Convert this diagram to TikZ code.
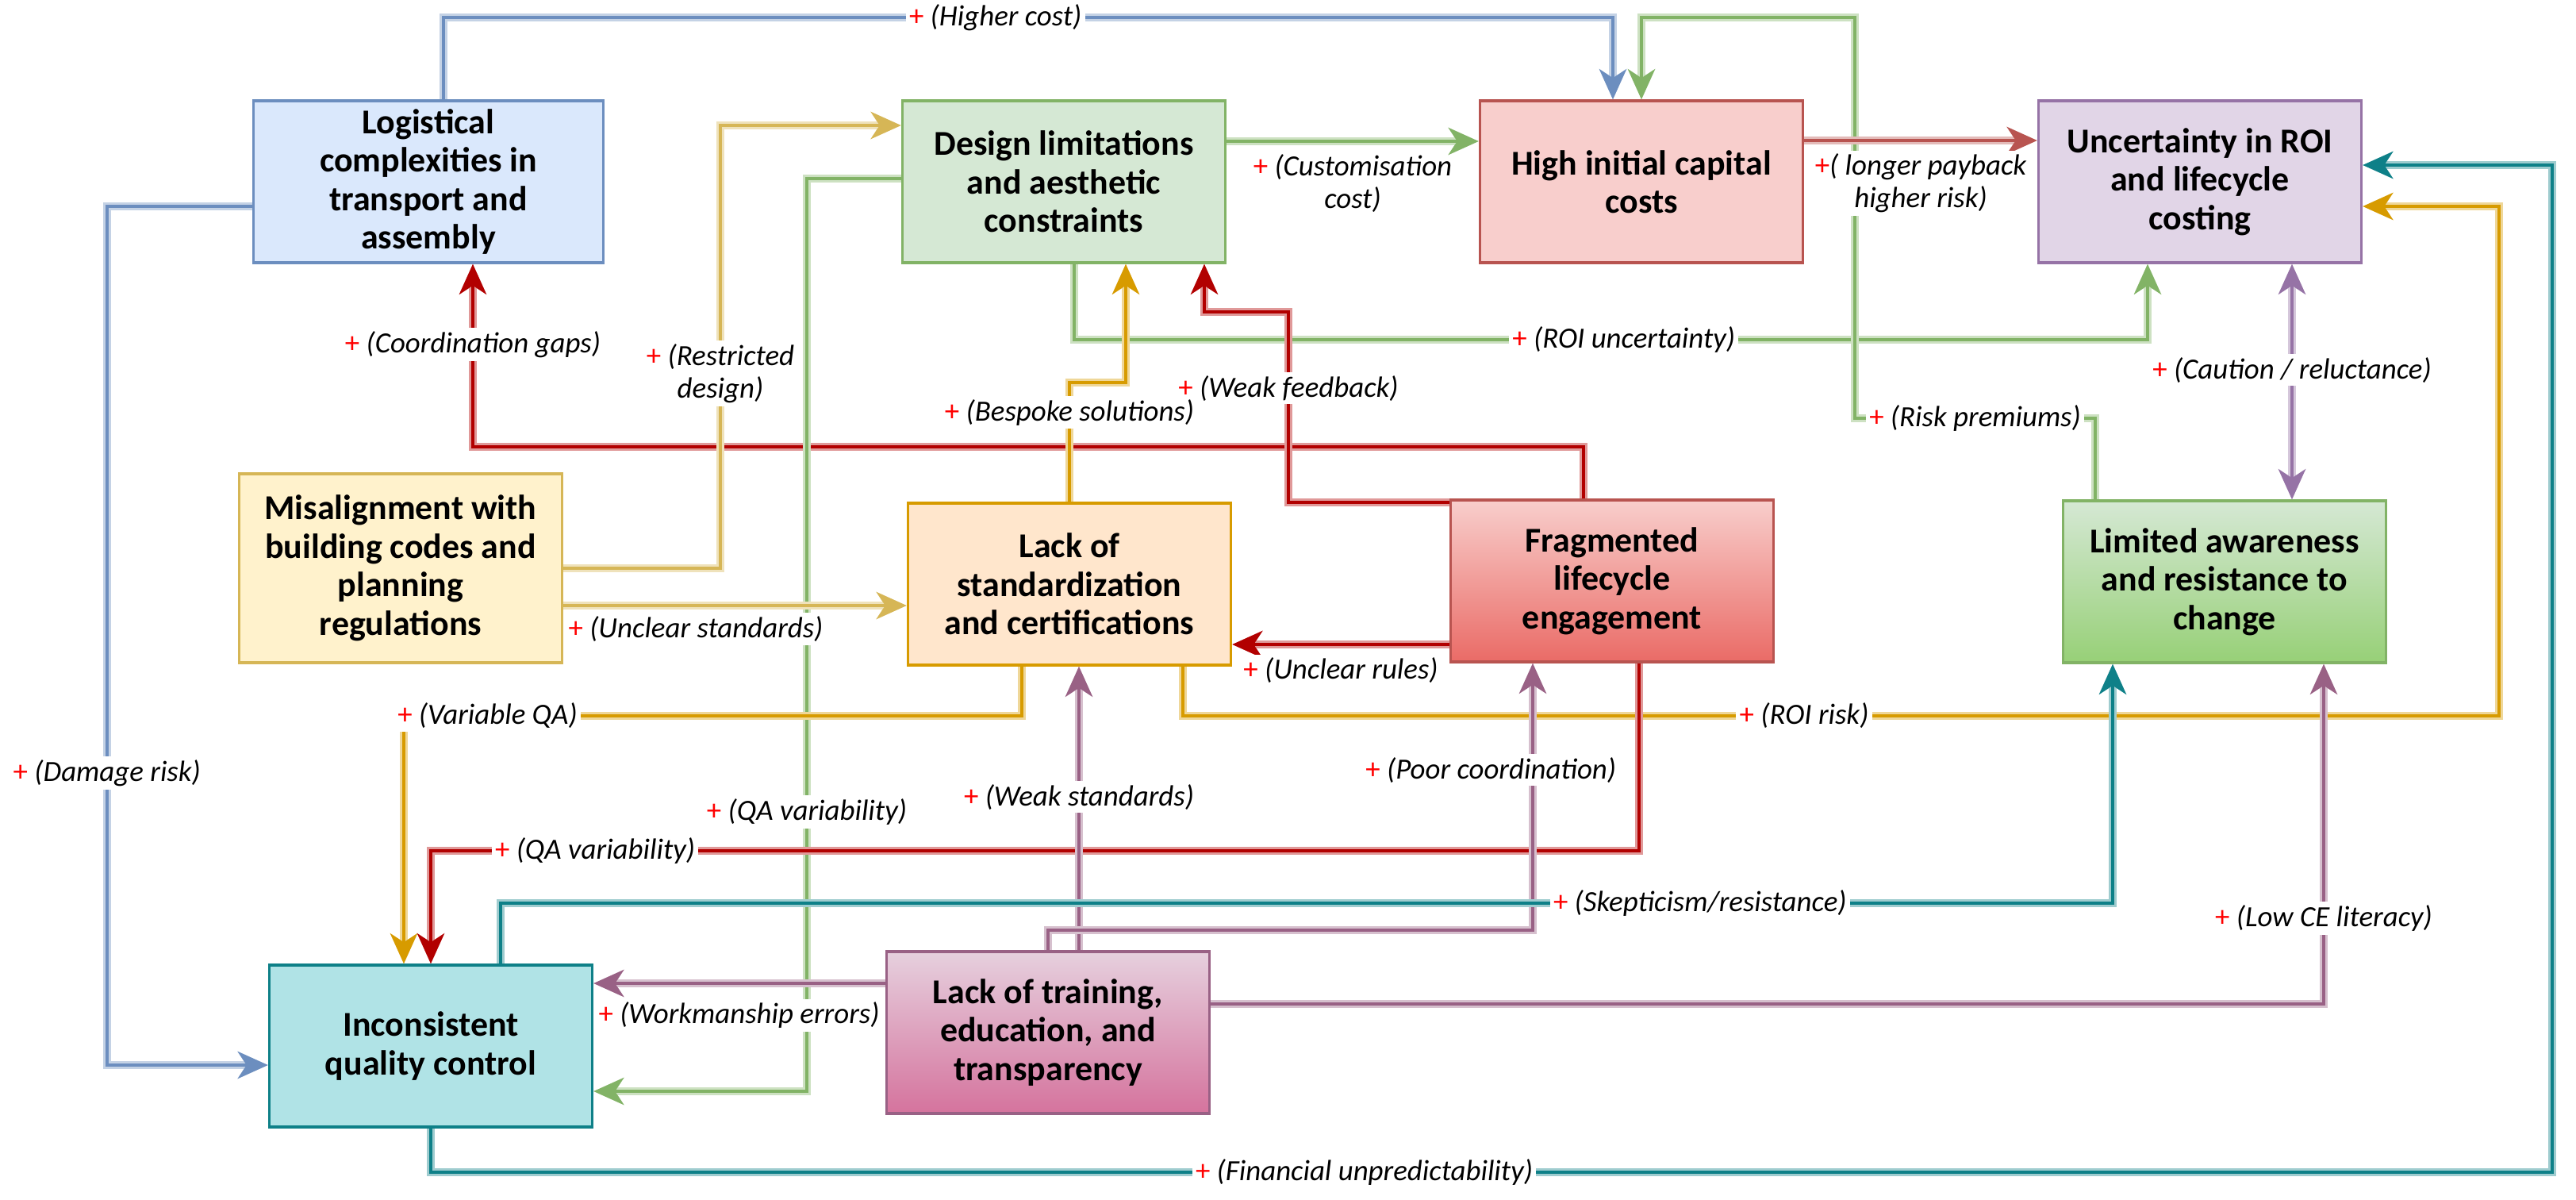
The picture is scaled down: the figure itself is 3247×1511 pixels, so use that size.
\documentclass[tikz,border=0pt]{standalone}
\usepackage{fontspec}
\setmainfont{Carlito}
\usepackage{tikz}
\usetikzlibrary{arrows.meta, calc}
\usepackage{xcolor}
\definecolor{dblue}{HTML}{6C8EBF}   \definecolor{lblue}{HTML}{DAE8FC}
\definecolor{dgreen}{HTML}{82B366}  \definecolor{lgreen}{HTML}{D5E8D4}
\definecolor{mgreen}{HTML}{97D077}
\definecolor{dred}{HTML}{B85450}    \definecolor{lred}{HTML}{F8CECC}
\definecolor{mred}{HTML}{EA6B66}
\definecolor{dpurple}{HTML}{9673A6} \definecolor{lpurple}{HTML}{E1D5E7}
\definecolor{dyellow}{HTML}{D6B656} \definecolor{lyellow}{HTML}{FFF2CC}
\definecolor{dorange}{HTML}{D79B00} \definecolor{lorange}{HTML}{FFE6CC}
\definecolor{dteal}{HTML}{0E8088}   \definecolor{lteal}{HTML}{B0E3E6}
\definecolor{dmauve}{HTML}{996185}  \definecolor{lmauve}{HTML}{E6D0DE}
\definecolor{mmauve}{HTML}{D5739D}
\definecolor{crimson}{HTML}{B20000}
\newcommand{\pls}{\textcolor{red}{\upshape+}}

\begin{document}
\begin{tikzpicture}[
    x=0.1mm, y=-0.1mm,
    >={Stealth[length=3.8mm, width=3.4mm, inset=1.1mm]},
    box/.style={draw, line width=1pt, minimum width=40.7mm, minimum height=20.4mm,
                inner sep=0.5pt, align=center, font=\fontsize{12.5}{13.8}\selectfont\bfseries},
    lnk/.style={draw=#1, line width=1.2pt, ->, preaction={draw=#1!40, line width=2.8pt}},
    lab/.style={fill=white, inner sep=1.2pt, align=center,
                font=\fontsize{10.5}{11.5}\selectfont\itshape},
]
\useasboundingbox (0,0) rectangle (3247,1511);

% factors
\node[box, fill=lblue, draw=dblue, minimum width=44.1mm] (logi) at (540,229)
    {Logistical\\complexities in\\transport and\\assembly};
\node[box, fill=lgreen, draw=dgreen] (design) at (1341,229)
    {Design limitations\\and aesthetic\\constraints};
\node[box, fill=lred, draw=dred] (capex) at (2069,229) {High initial capital\\costs};
\node[box, fill=lpurple, draw=dpurple] (roi) at (2773,229)
    {Uncertainty in ROI\\and lifecycle\\costing};
\node[box, fill=lyellow, draw=dyellow, minimum height=23.8mm] (codes) at (505,716)
    {Misalignment with\\building codes and\\planning\\regulations};
\node[box, fill=lorange, draw=dorange] (stand) at (1348,736)
    {Lack of\\standardization\\and certifications};
\node[box, top color=lred, bottom color=mred, draw=dred] (frag) at (2032,732)
    {Fragmented\\lifecycle\\engagement};
\node[box, top color=lgreen, bottom color=mgreen, draw=dgreen] (aware) at (2804,733)
    {Limited awareness\\and resistance to\\change};
\node[box, fill=lteal, draw=dteal] (qc) at (543,1318) {Inconsistent\\quality control};
\node[box, top color=lmauve, bottom color=mmauve, draw=dmauve] (train) at (1321,1301)
    {Lack of training,\\education, and\\transparency};

% links
\draw[lnk=dblue] ($(logi.north)+(19,0)$) |- node[lab, pos=0.736]{\pls~(Higher cost)}
    (2033,22) -- ($(capex.north)+(-36,0)$);
\draw[lnk=dblue] ($(logi.west)+(0,31)$) -| node[lab, pos=0.83]{\pls~(Damage risk)}
    ($(qc.west)+(-203,24)$) -- ($(qc.west)+(0,24)$);
\draw[lnk=dgreen] ($(design.east)+(0,-51)$) --
    node[lab, below=3pt, fill=none]{\pls~(Customisation\\cost)} ($(capex.west)+(0,-51)$);
\draw[lnk=dgreen] ($(design.south)+(13,0)$) |- node[lab, pos=0.756]{\pls~(ROI uncertainty)}
    (2707,428) -- ($(roi.south)+(-66,0)$);
\draw[lnk=dgreen] ($(aware.north)+(-163,0)$) |- node[lab, pos=0.75]{\pls~(Risk premiums)}
    (2338,527) |- (2069,22) -- (capex.north);
\draw[lnk=dred] ($(capex.east)+(0,-52)$) --
    node[lab, below=3pt]{\pls( longer payback\\higher risk)} ($(roi.west)+(0,-52)$);
\draw[lnk=dpurple, <->] ($(roi.south)+(116,0)$) --
    node[lab, pos=0.45]{\pls~(Caution / reluctance)} ($(aware.north)+(85,0)$);
\draw[lnk=crimson] ($(frag.north)+(-36,0)$) |- (596,563) --
    node[lab, pos=0.56]{\pls~(Coordination gaps)} ($(logi.south)+(56,0)$);
\draw[lnk=crimson] ($(frag.north west)+(0,5)$) -| node[lab, pos=0.8]{\pls~(Weak feedback)}
    (1624,393) -| ($(design.south)+(177,0)$);
\draw[lnk=dorange] (stand.north) |- node[lab, pos=0.375]{\pls~(Bespoke solutions)}
    (1419,482) -- ($(design.south)+(78,0)$);
\draw[lnk=dyellow] (codes.east) -| node[lab, pos=0.72]{\pls~(Restricted\\design)}
    (908,158) -- ($(design.west)+(0,-71)$);
\draw[lnk=dgreen] ($(design.west)+(0,-4)$) -| node[lab, pos=0.847]{\pls~(QA variability)}
    (1017,1375) -- ($(qc.east)+(0,57)$);
\draw[lnk=dyellow] ($(codes.east)+(0,47)$) --
    node[lab, pos=0, anchor=north west, yshift=-2pt]{\pls~(Unclear standards)}
    ($(stand.west)+(0,27)$);
\draw[lnk=dorange] ($(stand.south)+(-60,0)$) |- (509,902) --
    node[lab, pos=0, anchor=west, xshift=-4pt]{\pls~(Variable QA)} ($(qc.north)+(-34,0)$);
\draw[lnk=dorange] ($(stand.south)+(143,0)$) |- node[lab, pos=0.736]{\pls~(ROI risk)}
    (3150,902) |- ($(roi.east)+(0,31)$);
\draw[lnk=crimson] ($(frag.west)+(0,80)$) --
    node[lab, below=3pt]{\pls~(Unclear rules)} ($(stand.east)+(0,76)$);
\draw[lnk=crimson] ($(frag.south)+(34,0)$) |- node[lab, pos=0.932]{\pls~(QA variability)}
    (543,1072) -- (qc.north);
\draw[lnk=dmauve] ($(train.north)+(39,0)$) --
    node[lab, pos=0.54]{\pls~(Weak standards)} ($(stand.south)+(12,0)$);
\draw[lnk=dmauve] (train.north) |- (1932,1172) --
    node[lab, pos=0.6, xshift=-15pt]{\pls~(Poor coordination)} ($(frag.south)+(-100,0)$);
\draw[lnk=dteal] ($(qc.north)+(88,0)$) |- node[lab, pos=0.872]{\pls~(Skepticism/resistance)}
    (2663,1138) -- ($(aware.south)+(-141,0)$);
\draw[lnk=dmauve] ($(train.west)+(0,-62)$) --
    node[lab, pos=1, anchor=north west, yshift=-5pt]{\pls~(Workmanship errors)}
    ($(qc.east)+(0,-79)$);
\draw[lnk=dmauve] ($(train.east)+(0,-36)$) -| node[lab, pos=0.626]{\pls~(Low CE literacy)}
    ($(aware.south)+(125,0)$);
\draw[lnk=dteal] (qc.south) |- node[lab, pos=0.72]{\pls~(Financial unpredictability)}
    (3217,1477) |- ($(roi.east)+(0,-21)$);
\end{tikzpicture}
\end{document}
